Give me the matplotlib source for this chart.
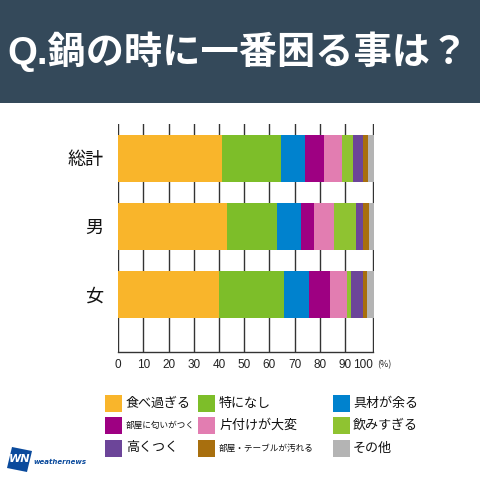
import matplotlib
matplotlib.use("Agg")
import matplotlib.pyplot as plt
from matplotlib.patches import Polygon, Rectangle

plt.rcParams['font.family'] = ['Noto Sans CJK JP', 'DejaVu Sans']

title = "Q.鍋の時に一番困る事は？"
groups = ["総計", "男", "女"]
series = ["食べ過ぎる", "特になし", "具材が余る", "部屋に匂いがつく", "片付けが大変",
          "飲みすぎる", "高くつく", "部屋・テーブルが汚れる", "その他"]
colors = ["#F9B52B", "#7DBE29", "#0082CE", "#9E0082", "#E27DB1",
          "#8FC331", "#6C4599", "#A86F0E", "#B4B4B4"]
values = [
    [41.1, 23.4, 9.7, 7.4, 7.0, 4.6, 3.8, 2.0, 2.5],
    [43.1, 19.7, 9.7, 5.2, 7.8, 8.7, 2.9, 2.5, 2.0],
    [39.9, 25.8, 9.8, 8.6, 6.5, 1.9, 4.6, 1.6, 2.9],
]
tick_labels = ["0", "10", "20", "30", "40", "50", "60", "70", "80", "90", "100"]
tick_pos = [0, 10, 20, 30, 40, 50, 60, 70, 80, 90, 101.2]

W = H = 480
fig = plt.figure(figsize=(4.8, 4.8), dpi=100, facecolor="white")

bg = fig.add_axes([0, 0, 1, 1])
bg.set_xlim(0, W); bg.set_ylim(H, 0); bg.axis("off")
bg.add_patch(Rectangle((0, 0), W, 103, color="#34495A", lw=0))
bg.text(7, 51.5, title, color="white", fontsize=27.5, fontweight="bold", va="center", ha="left",
        family=['Liberation Sans', 'Noto Sans CJK JP'])

ax = fig.add_axes([118.3 / W, 1 - 351.7 / H, 256 / W, 228.2 / H])
ax.set_xlim(0, 101.6)
ax.set_ylim(351.7, 123.5)
centers = [158.3, 226.2, 294.3]
for gi, c in enumerate(centers):
    left = 0
    for si, v in enumerate(values[gi]):
        ax.barh(c, v, left=left, height=47.4, color=colors[si], lw=0, zorder=3)
        left += v
ax.set_xticks(tick_pos)
ax.set_xticklabels(tick_labels, fontsize=8.5, color="#222222", family='Liberation Sans')
ax.get_xticklabels()[-1].set_horizontalalignment("right")
ax.set_yticks(centers)
ax.set_yticklabels(groups, fontsize=13, color="#111111")
ax.tick_params(axis="y", length=0, pad=11)
ax.tick_params(axis="x", length=0, pad=5)
ax.grid(axis="x", color="#333333", lw=1, zorder=1)
ax.set_axisbelow(True)
for s in ["top", "right", "left"]:
    ax.spines[s].set_visible(False)
ax.spines["bottom"].set_color("#333333")
ax.spines["bottom"].set_linewidth(1)
ax.spines["bottom"].set_bounds(0, 101.2)
bg.text(377, 365, "(%)", fontsize=6.5, color="#222222", va="center", ha="left")

# legend
cols = [(105, 126), (198, 219), (333.3, 353)]
rows = [403.5, 425.7, 448]
order = [[0, 1, 2], [3, 4, 5], [6, 7, 8]]
small = {3: 6.2, 7: 6.2}
for r, y in zip(order, rows):
    for (bx, tx), si in zip(cols, r):
        bg.add_patch(Rectangle((bx, y - 8.5), 17, 17, color=colors[si], lw=0))
        bg.text(tx, y, series[si], fontsize=small.get(si, 9.4), color="#111111",
                va="center", ha="left")

# logo
bg.add_patch(Polygon([[12, 447], [32, 451], [27, 472], [7, 468]], closed=True, color="#0A4A9C", lw=0))
bg.text(19.5, 459.5, "WN", color="white", fontsize=8, fontweight="bold", style="italic",
        family="DejaVu Sans", ha="center", va="center")
bg.text(33, 462, "weathernews", color="#0A4A9C", fontsize=5, fontweight="bold", style="italic",
        family="DejaVu Sans", ha="left", va="center")

fig.savefig("out.png", dpi=100)
